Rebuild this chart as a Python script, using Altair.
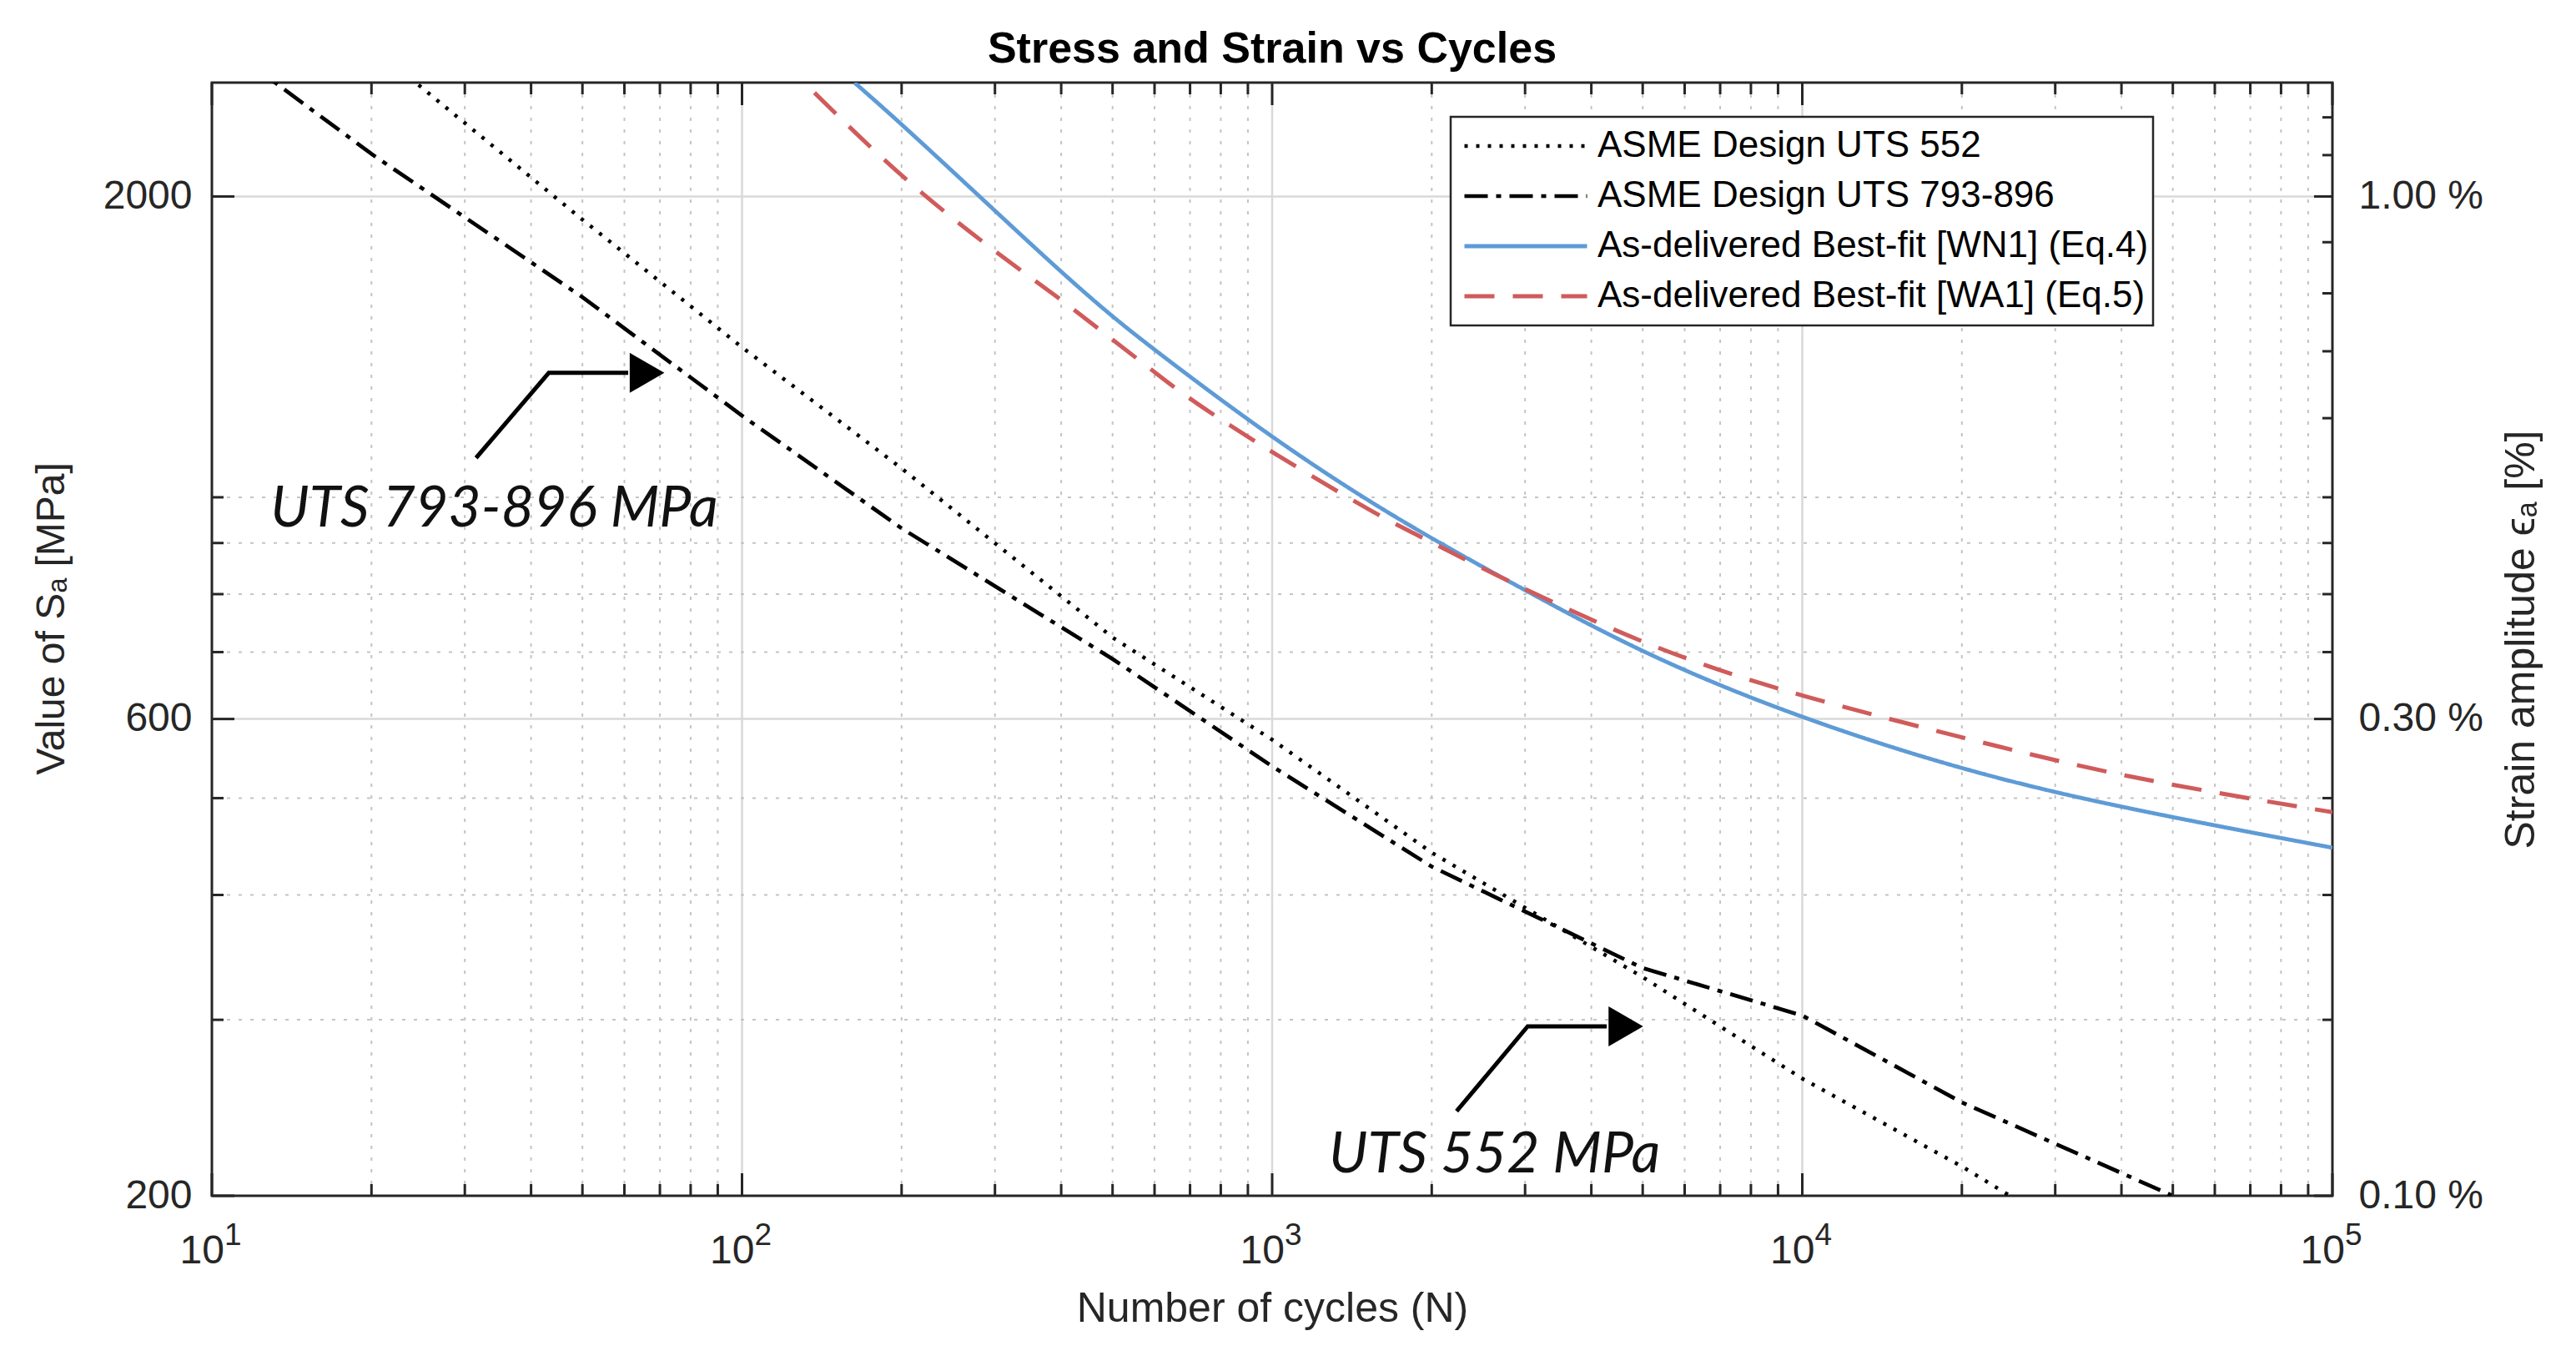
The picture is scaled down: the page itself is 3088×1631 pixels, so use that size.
import pandas as pd
import altair as alt

# ASME design curves, stress amplitude S_a [MPa] against cycles N
asme552_n = [10, 20, 50, 100, 200, 500, 1000, 2000, 5000, 10000, 20000, 50000]
asme552_s = [3999, 2827, 1896, 1413, 1069, 724, 572, 441, 331, 262, 214, 159]
asme793_n = [10, 20, 50, 100, 200, 500, 1000, 2000, 5000, 10000, 20000, 50000, 100000]
asme793_s = [2896, 2206, 1586, 1207, 931, 689, 538, 427, 338, 303, 248, 200, 179]

# best-fit curves
wn1_n = [163, 200, 300, 400, 500, 600, 700, 1000, 1632, 2980, 5212, 10000, 20560, 39800, 100000]
wn1_s = [2600, 2364, 1935, 1680, 1515, 1405, 1320, 1147, 965, 808, 690, 600, 531, 489, 446]
wa1_n = [137, 200, 300, 400, 500, 600, 700, 1000, 1632, 1886, 2431, 5212, 10000, 20560, 39800, 100000]
wa1_s = [2540, 2086, 1760, 1578, 1437, 1335, 1252, 1108, 950, 917, 853, 704, 631, 573, 525, 484]

series = ["ASME Design UTS 552", "ASME Design UTS 793-896",
          "As-delivered Best-fit [WN1] (Eq.4)", "As-delivered Best-fit [WA1] (Eq.5)"]
colors = ["#000000", "#000000", "#5E9BD6", "#D05B5B"]
dashes = [[4, 10], [28, 10, 6, 10], [1, 0], [36, 22]]
widths = [4.5, 5, 4, 4.5]

# axes ticks
x_major = [10, 100, 1000, 10000, 100000]
x_exp = ["1", "2", "3", "4", "5"]
x_minor = [k * 10 ** d for d in range(1, 5) for k in range(2, 10)]
y_major = [200, 600, 2000]
y_minor = [300, 400, 500, 700, 800, 900, 1000]
strain_minor = [0.15, 0.2, 0.25, 0.35, 0.4, 0.45, 0.5, 0.6, 0.7, 0.8, 0.9, 1.1, 1.2]  # %
E_PER_PCT = 2000  # MPa per 1 % strain

# annotations
note_text = ["UTS 793-896 MPa", "UTS 552 MPa"]
note_n = [12.9, 1279]
note_s = [934, 211]
arrow_id = [1, 1, 1, 2, 2, 2]
arrow_n = [31.5, 43.2, 61, 2228, 3034, 4276]
arrow_s = [1095, 1332, 1332, 243, 295.5, 295.5]
head_n = [66.2, 4647]
head_s = [1332, 295.5]

W, H = 2542, 1334
FONT = "Liberation Sans"
AX = "#262626"
xs = alt.Scale(type="log", domain=[10, 100000], nice=False)
ys = alt.Scale(type="log", domain=[200, 2600], nice=False)


def frame(name, ns, ss):
    return pd.DataFrame({"series": name, "n": ns, "s": ss, "i": range(len(ns))})


asme = pd.concat([frame(series[0], asme552_n, asme552_s), frame(series[1], asme793_n, asme793_s)])
fits = pd.concat([frame(series[2], wn1_n, wn1_s), frame(series[3], wa1_n, wa1_s)])

legend = alt.Legend(title=None, orient="none", legendX=1485, legendY=41,
                    symbolType="stroke", symbolSize=21609, symbolStrokeWidth=4,
                    clipHeight=60, rowPadding=0, padding=5, symbolOffset=9,
                    labelOffset=10, labelFontSize=44, labelFont=FONT, labelColor="black",
                    labelLimit=2000, fillColor="white", strokeColor=AX)
color = alt.Color("series:N", scale=alt.Scale(domain=series, range=colors), legend=legend)
dash = alt.StrokeDash("series:N", scale=alt.Scale(domain=series, range=dashes), legend=legend)
width = alt.StrokeWidth("series:N", scale=alt.Scale(domain=series, range=widths), legend=None)

x_main = alt.X("n:Q", scale=xs, axis=alt.Axis(
    labels=False, ticks=False, domain=False, grid=False,
    title="Number of cycles (N)", titleFontSize=50, titleFont=FONT,
    titleFontWeight="normal", titleColor=AX, titlePadding=110))
y_main = alt.Y("s:Q", scale=ys, axis=alt.Axis(
    values=y_major, format="d", labelFontSize=48, labelFont=FONT, labelColor=AX,
    labelPadding=24, labelOverlap=False, ticks=False, domain=False, grid=False,
    title="Value of Sₐ [MPa]", titleFontSize=48, titleFont=FONT, titleY=642,
    titleFontWeight="normal", titleColor=AX, titlePadding=37))
x_plain = alt.X("n:Q", scale=xs, axis=None)
y_plain = alt.Y("s:Q", scale=ys, axis=None)


def vals(name, v):
    return pd.DataFrame({name: v})


grid_xminor = alt.Chart(vals("n", x_minor)).mark_rule(
    color="#c4c4c4", strokeWidth=2, strokeDash=[4, 10]).encode(x=x_plain)
grid_xmajor = alt.Chart(vals("n", x_major[1:-1])).mark_rule(
    color="#d9d9d9", strokeWidth=2.5).encode(x=x_plain)
grid_yminor = alt.Chart(vals("s", y_minor)).mark_rule(
    color="#c4c4c4", strokeWidth=2, strokeDash=[4, 10]).encode(y=y_plain)
grid_ymajor = alt.Chart(vals("s", y_major[1:])).mark_rule(
    color="#d9d9d9", strokeWidth=2.5).encode(y=y_plain)

asme_lines = alt.Chart(asme).mark_line(clip=True).encode(
    x=x_main, y=y_main, color=color, strokeDash=dash, strokeWidth=width, order="i:Q")
fit_lines = alt.Chart(fits).mark_line(clip=True, interpolate="basis").encode(
    x=x_plain, y=y_plain, color=color, strokeDash=dash, strokeWidth=width, order="i:Q")


def xticks(v, y0, y1):
    return alt.Chart(vals("n", v)).mark_rule(color=AX, strokeWidth=3).encode(
        x=x_plain, y=alt.value(y0), y2=alt.value(y1))


def yticks(v, x0, x1, axis=None):
    return alt.Chart(vals("s", v)).mark_rule(color=AX, strokeWidth=3).encode(
        y=alt.Y("s:Q", scale=ys, axis=axis), x=alt.value(x0), x2=alt.value(x1))


right_axis = alt.Axis(
    orient="right", values=y_major,
    labelExpr=f"format(datum.value / {E_PER_PCT}, '.2f') + ' %'",
    labelFontSize=48, labelFont=FONT, labelColor=AX, labelPadding=31, labelOverlap=False,
    ticks=False, domain=False, grid=False,
    title="Strain amplitude ϵₐ [%]", titleAngle=270, titleFontSize=50, titleFont=FONT,
    titleFontWeight="normal", titleColor=AX, titlePadding=71)

ticks = [
    xticks(x_major, H, H - 27), xticks(x_minor, H, H - 14),
    xticks(x_major, 0, 27), xticks(x_minor, 0, 14),
    yticks(y_major, 0, 27), yticks(y_minor, 0, 14),
    yticks(y_major, W, W - 22, right_axis),
    yticks([p * E_PER_PCT for p in strain_minor], W, W - 12),
]

xlab_df = pd.DataFrame({"n": x_major, "e": x_exp})
xlab_base = alt.Chart(xlab_df).mark_text(
    text="10", align="right", dx=15, baseline="alphabetic", fontSize=48, font=FONT, color=AX
).encode(x=x_plain, y=alt.value(H + 81))
xlab_exp = alt.Chart(xlab_df).mark_text(
    align="left", dx=15, baseline="alphabetic", fontSize=37, font=FONT, color=AX
).encode(x=x_plain, y=alt.value(H + 59), text="e:N")

notes = alt.Chart(pd.DataFrame({"t": note_text, "n": note_n, "s": note_s})).mark_text(
    align="left", baseline="alphabetic", font="Lato", fontStyle="italic", fontSize=68,
    color="#111111").encode(x=x_plain, y=y_plain, text="t:N")
arrows = alt.Chart(pd.DataFrame({"a": arrow_id, "n": arrow_n, "s": arrow_s,
                                 "i": list(range(len(arrow_id)))})).mark_line(
    color="black", strokeWidth=5).encode(x=x_plain, y=y_plain, detail="a:N", order="i:Q")
heads = alt.Chart(pd.DataFrame({"n": head_n, "s": head_s})).mark_point(
    shape="triangle-right", filled=True, size=2300, color="black", opacity=1).encode(
    x=x_plain, y=y_plain)

chart = alt.layer(
    grid_xminor, grid_xmajor, grid_yminor, grid_ymajor,
    asme_lines, fit_lines, *ticks, xlab_base, xlab_exp, notes, arrows, heads
).resolve_axis(x="independent", y="independent").properties(
    width=W, height=H,
    autosize=alt.AutoSizeParams(type="none"),
    padding={"left": 246, "top": 91, "right": 270, "bottom": 180},
    title=alt.TitleParams("Stress and Strain vs Cycles", fontSize=52, font=FONT,
                          fontWeight="bold", color="black", anchor="middle", offset=12),
).configure(font=FONT).configure_view(stroke=AX, strokeWidth=3).configure_legend(strokeWidth=2.5)

chart.save("out.html", embed_options={"renderer": "svg", "actions": False})
